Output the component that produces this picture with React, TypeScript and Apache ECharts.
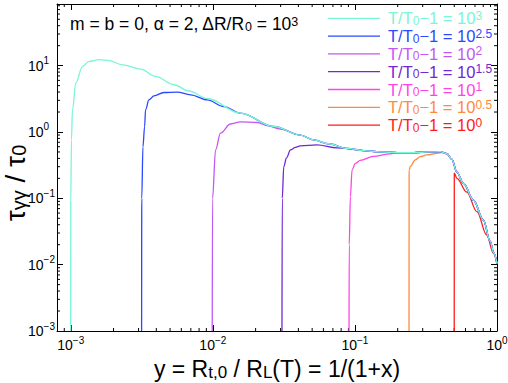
import React, { useEffect, useRef } from "react";
import * as echarts from "echarts";

const FONT = '"Liberation Sans", Arial, Helvetica, sans-serif';

const xMin = 8e-4;
const xMax = 1;
const yMin = 1e-3;
const yMax = 85;

// shared envelope (upper curve once each line has joined it)
const envX = [3.105e-3, 3.95e-3, 5.32e-3, 6.78e-3, 9.13e-3, 0.01566, 0.02683, 0.0413, 0.0513, 0.065, 0.088, 0.115, 0.15, 0.2, 0.26, 0.33, 0.398, 0.4437, 0.481, 0.522, 0.581, 0.6826, 0.8025, 0.894, 0.95, 1.0];
const envV = [8.88, 6.9, 5.15, 4.15, 3.2, 1.92, 1.21, 0.9, 0.76, 0.665, 0.565, 0.525, 0.5, 0.49, 0.49, 0.5, 0.505, 0.47, 0.388, 0.249, 0.1685, 0.0942, 0.047, 0.0226, 0.015, 0.0104];

// rising branches of each curve
const cyanX = [9.99e-4, 1.0e-3, 1.011e-3, 1.028e-3, 1.084e-3, 1.208e-3, 1.346e-3, 1.58e-3, 1.86e-3, 2.31e-3];
const cyanV = [1e-3, 0.09, 0.76, 2.16, 5.46, 9.7, 11.6, 12.3, 11.9, 10.3];
const blueX = [3.152e-3, 3.16e-3, 3.22e-3, 3.31e-3, 3.36e-3, 3.55e-3, 3.85e-3, 4.53e-3, 5.62e-3, 6.97e-3, 9.13e-3, 0.01195];
const blueV = [1e-3, 0.1, 0.6, 1.21, 2.16, 3.05, 3.51, 3.94, 3.99, 3.63, 3.05, 2.42];
const purpleX = [9.901e-3, 9.95e-3, 0.01045, 0.01132, 0.0133, 0.01567, 0.0205, 0.0241, 0.0299];
const purpleV = [1e-3, 0.1, 0.537, 0.96, 1.32, 1.42, 1.39, 1.25, 1.11];
const violetX = [0.03066, 0.0308, 0.03155, 0.033, 0.0352, 0.0381, 0.0413, 0.0542, 0.0748, 0.109];
const violetV = [1e-3, 0.1, 0.3, 0.407, 0.537, 0.585, 0.617, 0.638, 0.575, 0.535];
const magentaX = [0.0909, 0.0912, 0.0929, 0.0955, 0.1007, 0.109, 0.135, 0.177];
const magentaV = [1e-3, 0.02, 0.106, 0.268, 0.336, 0.373, 0.428, 0.467];
const orangeX = [0.2403, 0.2408, 0.2449, 0.2657, 0.288, 0.321, 0.378, 0.42];
const orangeV = [1e-3, 0.268, 0.3, 0.379, 0.425, 0.451, 0.478, 0.489];
const redX = [0.5, 0.5005, 0.522, 0.613, 0.722, 0.847, 0.944, 1.0];
const redV = [1e-3, 0.239, 0.2, 0.124, 0.063, 0.028, 0.0148, 0.0102];

const exponents = ["3", "2.5", "2", "1.5", "1", "0.5", "0"];
const colors = ["#7AF5D6", "#2A48FF", "#C256F4", "#7028D2", "#FF44E6", "#FF8A3D", "#FF1A1A"];

const xMinorTicks = [9e-4, 2e-3, 3e-3, 4e-3, 5e-3, 6e-3, 7e-3, 8e-3, 9e-3, 0.02, 0.03, 0.04, 0.05, 0.06, 0.07, 0.08, 0.09, 0.2, 0.3, 0.4, 0.5, 0.6, 0.7, 0.8, 0.9];
const yMinorTicks = [2e-3, 3e-3, 4e-3, 5e-3, 6e-3, 7e-3, 8e-3, 9e-3, 0.02, 0.03, 0.04, 0.05, 0.06, 0.07, 0.08, 0.09, 0.2, 0.3, 0.4, 0.5, 0.6, 0.7, 0.8, 0.9, 2, 3, 4, 5, 6, 7, 8, 9, 20, 30, 40, 50, 60, 70, 80];

function buildCurve(rx: number[], rv: number[], joinEnv: boolean): number[][] {
  const pts = rx.map((x, i) => [x, rv[i]]);
  if (!joinEnv) return pts;
  const last = rx[rx.length - 1];
  envX.forEach((x, i) => {
    if (x > last) pts.push([x, envV[i]]);
  });
  return pts;
}

const curves = [
  buildCurve(cyanX, cyanV, true),
  buildCurve(blueX, blueV, true),
  buildCurve(purpleX, purpleV, true),
  buildCurve(violetX, violetV, true),
  buildCurve(magentaX, magentaV, true),
  buildCurve(orangeX, orangeV, true),
  buildCurve(redX, redV, false),
];

const labelFmt = (v: number) => {
  const e = Math.log10(v);
  const r = Math.round(e);
  if (Math.abs(e - r) > 1e-6) return "";
  return `{b|10}{s|${r < 0 ? "\u2212" + -r : r}}`;
};
const labelRich = {
  b: { fontSize: 14, fontFamily: FONT, color: "#000", lineHeight: 20 },
  s: { fontSize: 10, fontFamily: FONT, color: "#000", lineHeight: 8, verticalAlign: "top" },
};

const axisBase = (show: boolean) => ({
  type: "log" as const,
  logBase: 10,
  axisLine: { show: true, lineStyle: { color: "#000", width: 1 } },
  axisTick: { show: true, inside: true, length: 6, lineStyle: { color: "#000", width: 1 } },
  splitLine: { show: false },
  minorTick: { show: false },
  axisLabel: show
    ? { show: true, formatter: labelFmt, rich: labelRich, fontFamily: FONT }
    : { show: false },
});

export default function App() {
  const ref = useRef<HTMLDivElement>(null);
  useEffect(() => {
    document.body.style.margin = "0";
    const chart = echarts.init(ref.current!, null, { renderer: "svg" });

    const lineSeries = curves
      .map((data, i) => ({
        type: "line",
        name: `c${i}`,
        data,
        showSymbol: false,
        symbol: "none",
        clip: true,
        smooth: 0.35,
        smoothMonotone: "x",
        z: 10 - i,
        lineStyle: { color: colors[i], width: 1.3 },
        itemStyle: { color: colors[i] },
      }))
      .reverse();

    const tickStyle = { stroke: "#000", lineWidth: 1 };

    const legendGraphics: any[] = [];
    exponents.forEach((ex, i) => {
      const ry = 18.3 + i * 17.8;
      legendGraphics.push({
        type: "line",
        shape: { x1: 328, y1: ry, x2: 380, y2: ry },
        style: { stroke: colors[i], lineWidth: 1.3 },
      });
      legendGraphics.push({
        type: "text",
        x: 388,
        y: ry,
        style: {
          text: `T/T{sub|0}\u22121 = 10{sup|${ex}}`,
          fill: colors[i],
          fontSize: 16.5,
          fontFamily: FONT,
          align: "left",
          verticalAlign: "middle",
          textAlign: "left",
          textVerticalAlign: "middle",
          rich: {
            sub: { fill: colors[i], fontSize: 12, fontFamily: FONT, lineHeight: 10, verticalAlign: "bottom" },
            sup: { fill: colors[i], fontSize: 12, fontFamily: FONT, lineHeight: 12, verticalAlign: "top" },
          },
        },
      });
    });

    chart.setOption({
      animation: false,
      backgroundColor: "#fff",
      grid: { left: 57, right: 11, top: 4, bottom: 52, containLabel: false, outerBoundsMode: "none" },
      xAxis: [
        { ...axisBase(true), position: "bottom", min: xMin, max: xMax, axisLabel: { ...axisBase(true).axisLabel, margin: 4 } },
        { ...axisBase(false), position: "top", min: xMin, max: xMax },
      ],
      yAxis: [
        { ...axisBase(true), position: "left", min: yMin, max: yMax, axisLabel: { ...axisBase(true).axisLabel, margin: 29, align: "left" } },
        { ...axisBase(false), position: "right", min: yMin, max: yMax },
      ],
      series: [
        ...lineSeries,
        {
          type: "custom",
          silent: true,
          clip: false,
          data: xMinorTicks.map((v) => [v, 1]),
          renderItem: (params: any, api: any) => {
            const cs = params.coordSys;
            const p = api.coord([api.value(0), 1]);
            return {
              type: "group",
              children: [
                { type: "line", shape: { x1: p[0], y1: cs.y + cs.height, x2: p[0], y2: cs.y + cs.height - 3 }, style: tickStyle },
                { type: "line", shape: { x1: p[0], y1: cs.y, x2: p[0], y2: cs.y + 3 }, style: tickStyle },
              ],
            };
          },
        },
        {
          type: "custom",
          silent: true,
          clip: false,
          data: yMinorTicks.map((v) => [0.01, v]),
          renderItem: (params: any, api: any) => {
            const cs = params.coordSys;
            const p = api.coord([0.01, api.value(1)]);
            return {
              type: "group",
              children: [
                { type: "line", shape: { x1: cs.x, y1: p[1], x2: cs.x + 3, y2: p[1] }, style: tickStyle },
                { type: "line", shape: { x1: cs.x + cs.width, y1: p[1], x2: cs.x + cs.width - 3, y2: p[1] }, style: tickStyle },
              ],
            };
          },
        },
      ],
      graphic: [
        {
          type: "text",
          x: 70,
          y: 24,
          style: {
            text: "m = b = 0, \u03B1 = 2, \u0394R/R{sub|0} = 10{sup|3}",
            fill: "#000",
            fontSize: 17.5,
            fontFamily: FONT,
            align: "left",
            verticalAlign: "middle",
            textAlign: "left",
            textVerticalAlign: "middle",
            rich: {
              sub: { fill: "#000", fontSize: 12.5, fontFamily: FONT, lineHeight: 10, verticalAlign: "bottom" },
              sup: { fill: "#000", fontSize: 12.5, fontFamily: FONT, lineHeight: 14, verticalAlign: "top" },
            },
          },
        },
        ...legendGraphics,
        {
          type: "text",
          x: 277,
          y: 369,
          style: {
            text: "y = R{sub|t,0} / R{sub|L}(T) = 1/(1+x)",
            fill: "#000",
            fontSize: 23,
            fontFamily: FONT,
            align: "center",
            verticalAlign: "middle",
            textAlign: "center",
            textVerticalAlign: "middle",
            rich: {
              sub: { fill: "#000", fontSize: 17, fontFamily: FONT, lineHeight: 12, verticalAlign: "bottom" },
            },
          },
        },
        {
          type: "text",
          x: 15,
          y: 183,
          rotation: Math.PI / 2,
          style: {
            text: "\u03C4{sub|\u03B3\u03B3} / \u03C4{sub|0}",
            fill: "#000",
            fontSize: 28,
            fontFamily: FONT,
            align: "center",
            verticalAlign: "middle",
            textAlign: "center",
            textVerticalAlign: "middle",
            rich: {
              sub: { fill: "#000", fontSize: 20, fontFamily: FONT, lineHeight: 12, verticalAlign: "bottom" },
            },
          },
        },
      ],
    });
    return () => chart.dispose();
  }, []);
  return <div ref={ref} style={{ width: 508, height: 383, background: "#fff" }} />;
}
